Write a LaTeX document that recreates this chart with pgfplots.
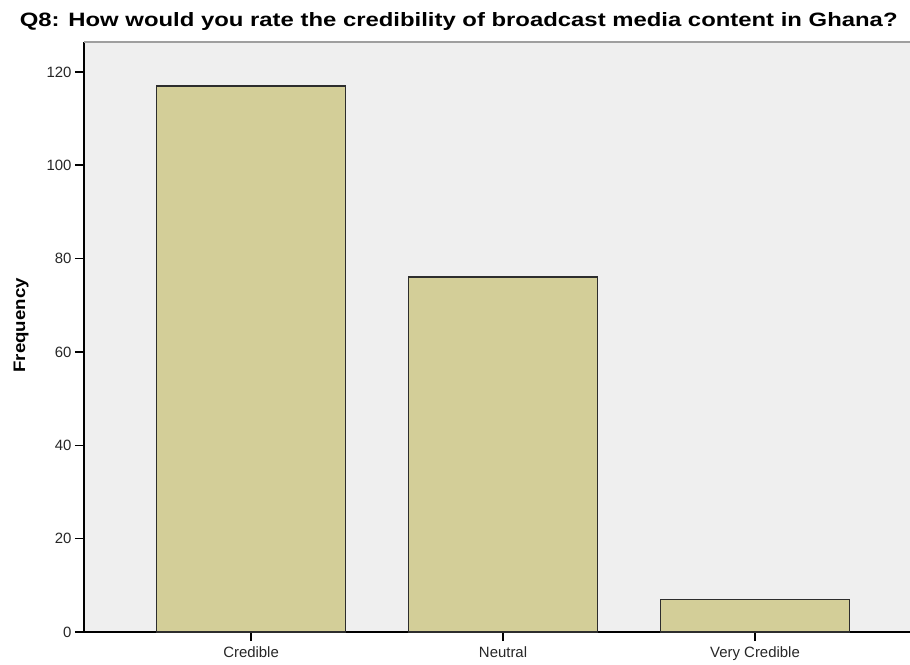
\documentclass[border=0pt]{standalone}
\usepackage{pgfplots}
\pgfplotsset{compat=1.18}
\usepackage{fontspec}
\setmainfont{Liberation Sans}
\definecolor{barfill}{RGB}{211,206,152}
\definecolor{bgc}{RGB}{239,239,239}
\definecolor{edgec}{RGB}{45,45,45}
\begin{document}
\begin{tikzpicture}
\useasboundingbox (0pt,0pt) rectangle (682.5pt,498pt);
\begin{axis}[
  at={(63pt,24pt)}, anchor=south west,
  scale only axis,
  width=619.5pt, height=442.5pt,
  xmin=-0.663, xmax=2.615,
  ymin=0, ymax=126.4,
  axis x line*=bottom, axis y line*=left,
  axis line style={black, line width=1.1pt, -},
  axis background/.style={fill=bgc},
  xtick={0,1,2}, xticklabels={Credible,Neutral,Very Credible},
  ytick={0,20,40,60,80,100,120},
  tick align=outside,
  major tick length=6.8pt,
  tick style={black, line width=1.1pt},
  /pgf/number format/assume math mode=true,
  ticklabel style={font=\fontsize{11.2}{12}\selectfont, text=black!85},
  xticklabel style={yshift=-1pt},
  yticklabel style={xshift=1pt},
  ybar, bar width=0.75,
  clip=false,
]
\addplot[fill=barfill, draw=edgec, line width=1.2pt] coordinates {(0,117) (1,76) (2,7)};
\draw[gray!75, line width=1.3pt] (axis cs:-0.663,126.4) -- (axis cs:2.615,126.4);
\end{axis}
\node[rotate=90, xscale=1.12, font=\bfseries\fontsize{12.5}{14}\selectfont] at (15.75pt,254pt) {Frequency};
\node[xscale=1.235, font=\bfseries\fontsize{14.5}{16}\selectfont] at (344pt,481.5pt) {Q8: How would you rate the credibility of broadcast media content in Ghana?};
\end{tikzpicture}
\end{document}
